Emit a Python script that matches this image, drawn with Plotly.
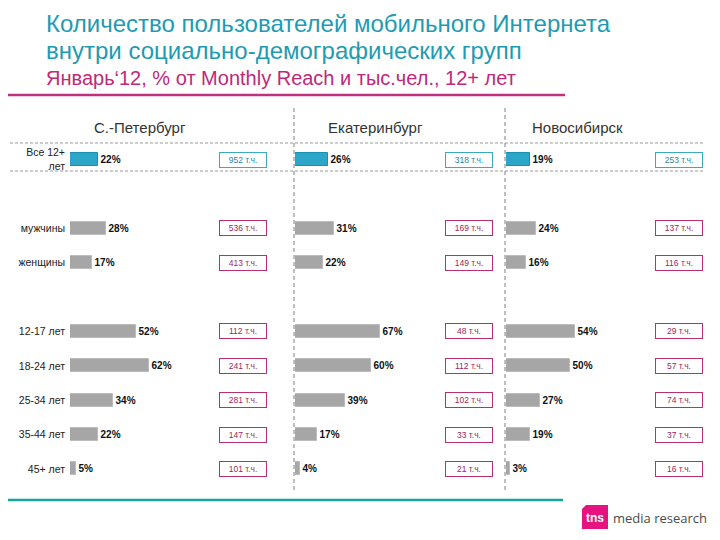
import plotly.graph_objects as go

# page body has an 8px margin; figure is sized to fit the 720x540 window
OFF = 8
W, H = 720 - OFF, 540 - OFF

# ---------------- data ----------------
cities = ["С.-Петербург", "Екатеринбург", "Новосибирск"]
groups = ["Все 12+ лет", "мужчины", "женщины", "12-17 лет", "18-24 лет",
          "25-34 лет", "35-44 лет", "45+ лет"]
group_ticktext = ["Все 12+<br>лет", "мужчины", "женщины", "12-17 лет", "18-24 лет",
                  "25-34 лет", "35-44 лет", "45+ лет"]
spb_pct = [22, 28, 17, 52, 62, 34, 22, 5]
ekb_pct = [26, 31, 22, 67, 60, 39, 17, 4]
nsk_pct = [19, 24, 16, 54, 50, 27, 19, 3]
spb_th = [952, 536, 413, 112, 241, 281, 147, 101]
ekb_th = [318, 169, 149, 48, 112, 102, 33, 21]
nsk_th = [253, 137, 116, 29, 57, 74, 37, 16]
unit = "т.ч."

title1 = "Количество пользователей мобильного Интернета"
title2 = "внутри социально-демографических групп"
subtitle = "Январь‘12, % от Monthly Reach и тыс.чел., 12+ лет"

# ---------------- layout helpers (window pixels -> paper) ----------------
def X(px):
    return (px - OFF) / W

def Y(py):
    return 1 - (py - OFF) / H

cat_order = [groups[0], "sp1", groups[1], groups[2], "sp2"] + groups[3:]
cat_text = [group_ticktext[0], "", group_ticktext[1], group_ticktext[2], ""] + group_ticktext[3:]

TEAL = "#2ba5c8"
GRAY = "#a6a6a6"
FONT = "Liberation Sans, Arial, sans-serif"

pcts = [spb_pct, ekb_pct, nsk_pct]
ths = [spb_th, ekb_th, nsk_th]
xaxes = ["x", "x2", "x3"]
dom_px = [(70, 290), (295, 500), (506, 715)]
px_per_pct = 1.27
box_cx = [243, 469, 679]
head_cx = [140, 375, 577]

fig = go.Figure()
for i in range(3):
    colors = [TEAL] + [GRAY] * (len(groups) - 1)
    lines = ["#1b8fb0"] + ["#bcbcbc"] * (len(groups) - 1)
    fig.add_trace(go.Bar(
        x=pcts[i], y=groups, orientation="h",
        xaxis=xaxes[i], yaxis="y",
        marker=dict(color=colors, line=dict(color=lines, width=1)),
        width=0.38,
        text=[f"<b>{v}%</b>" for v in pcts[i]],
        textposition="outside",
        textfont=dict(family=FONT, size=10, color="#111111"),
        cliponaxis=False,
        showlegend=False,
        hoverinfo="skip",
    ))

layout_axes = {}
for i in range(3):
    a, b = dom_px[i]
    key = "xaxis" if i == 0 else f"xaxis{i+1}"
    layout_axes[key] = dict(
        domain=[X(a), min(X(b), 1.0)],
        range=[0, (b - a) / px_per_pct],
        anchor="y",
        showgrid=False, zeroline=False, showticklabels=False,
        showline=False, ticks="", fixedrange=True,
    )

# y mapping: row index -> window pixel = 159.6 + 34.37*idx
y_top_px, y_bot_px = 142, 490
idx_top = (y_top_px - 159.6) / 34.37
idx_bot = (y_bot_px - 159.6) / 34.37

fig.update_layout(
    width=W, height=H,
    margin=dict(l=0, r=0, t=0, b=0),
    paper_bgcolor="white", plot_bgcolor="rgba(0,0,0,0)",
    bargap=0,
    yaxis=dict(
        domain=[Y(y_bot_px), Y(y_top_px)],
        type="category",
        categoryorder="array", categoryarray=cat_order,
        tickmode="array", tickvals=cat_order, ticktext=cat_text,
        range=[idx_bot, idx_top],
        anchor="x",
        showgrid=False, zeroline=False, showline=False, ticks="",
        ticklabelstandoff=4,
        tickfont=dict(family=FONT, size=10.5, color="#222222"),
        fixedrange=True,
    ),
    **layout_axes,
)

shapes = []
shapes.append(dict(type="line", xref="paper", yref="paper",
                   x0=X(0), x1=X(565), y0=Y(95), y1=Y(95),
                   line=dict(color="#c0307e", width=2.5)))
shapes.append(dict(type="line", xref="paper", yref="paper",
                   x0=X(0), x1=X(563), y0=Y(500), y1=Y(500),
                   line=dict(color="#17a59a", width=2.5)))
for py in (143, 171):
    shapes.append(dict(type="line", xref="paper", yref="paper",
                       x0=X(0), x1=X(705), y0=Y(py), y1=Y(py),
                       line=dict(color="#9a9a9a", width=1, dash="3px,2px")))
for px in (294, 505):
    shapes.append(dict(type="line", xref="paper", yref="paper",
                       x0=X(px), x1=X(px), y0=Y(108), y1=Y(493),
                       line=dict(color="#808080", width=1, dash="4px,3px")))
shapes.append(dict(type="path", xref="paper", yref="paper",
                   path=(f"M {X(586)} {Y(505)} L {X(608)} {Y(505)} L {X(608)} {Y(529)} "
                         f"L {X(582)} {Y(529)} L {X(582)} {Y(509)} Z"),
                   fillcolor="#e6127f", line=dict(width=0)))

annotations = []
annotations.append(dict(text=title1, x=X(44), y=Y(23), xref="paper", yref="paper",
                        xanchor="left", yanchor="middle", showarrow=False,
                        font=dict(family=FONT, size=24, color="#1e9bb3")))
annotations.append(dict(text=title2, x=X(44), y=Y(51), xref="paper", yref="paper",
                        xanchor="left", yanchor="middle", showarrow=False,
                        font=dict(family=FONT, size=24, color="#1e9bb3")))
annotations.append(dict(text=subtitle, x=X(44), y=Y(78), xref="paper", yref="paper",
                        xanchor="left", yanchor="middle", showarrow=False,
                        font=dict(family=FONT, size=20, color="#c0287a")))
for i in range(3):
    annotations.append(dict(text=cities[i], x=X(head_cx[i]), y=Y(127),
                            xref="paper", yref="paper", xanchor="center",
                            yanchor="middle", showarrow=False,
                            font=dict(family=FONT, size=15, color="#333333")))
    for j, g in enumerate(groups):
        top = j == 0
        annotations.append(dict(
            text=f"{ths[i][j]} {unit}", x=X(box_cx[i]), y=g,
            xref="paper", yref="y", xanchor="center", yanchor="middle",
            showarrow=False, width=44, height=12, borderpad=1,
            bordercolor="#3aa9c2" if top else "#b8306f", borderwidth=1,
            bgcolor="white",
            font=dict(family=FONT, size=8.5, color="#1e86a8" if top else "#a01f5c"),
        ))
annotations.append(dict(text="<b>tns</b>", x=X(595), y=Y(518), xref="paper", yref="paper",
                        xanchor="center", yanchor="middle", showarrow=False,
                        font=dict(family=FONT, size=12, color="white")))
annotations.append(dict(text="media research", x=X(611), y=Y(518), xref="paper", yref="paper",
                        xanchor="left", yanchor="middle", showarrow=False,
                        font=dict(family="Open Sans, Liberation Sans, sans-serif", size=13,
                                  color="#4a4a4a")))

fig.update_layout(shapes=shapes, annotations=annotations)
fig.write_html("out.html")
